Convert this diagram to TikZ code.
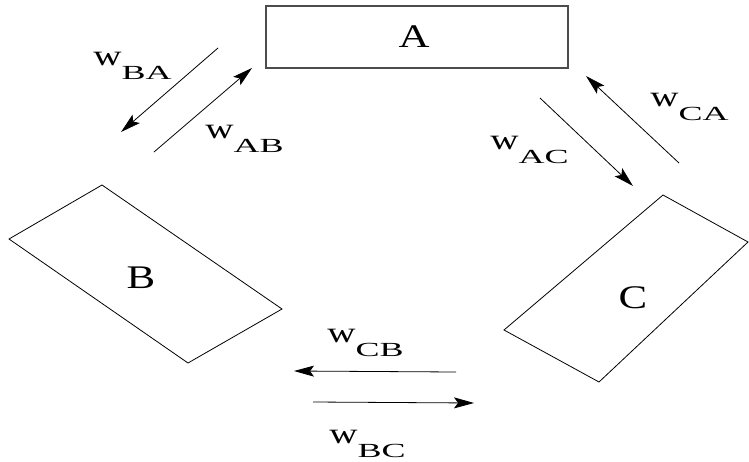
\documentclass[tikz,border=0pt]{standalone}
\usepackage{fontspec}
\usepackage{graphicx}
\setmainfont{Liberation Serif}
\usetikzlibrary{arrows.meta}

% wide w with a lowered, smaller subscript
\newcommand{\wsub}[1]{\scalebox{1.35}[1]{w}\raisebox{-14pt}{\fontsize{20}{20}\selectfont\scalebox{1.8}[1]{#1}}}
% wide capital for the boxes
\newcommand{\boxletter}[1]{\scalebox{1.3}[1]{#1}}

\begin{document}
\begin{tikzpicture}[x=1pt,y=-1pt,line width=0.8pt,
	wlabel/.style={anchor=base west,inner sep=0pt,font=\fontsize{29}{30}\selectfont},
	letter/.style={inner sep=0pt,font=\fontsize{33}{34}\selectfont},
	flow/.style={-{Stealth[length=20pt,width=11pt,inset=4pt]}}]
	\useasboundingbox (0,0) rectangle (749,461);

	%box A
	\node[draw=black!70,line width=1.1pt,minimum width=302pt,minimum height=62pt] (A) at (417,37) {};
	\node[letter] (labA) at (414,37) {\boxletter{A}};

	%box B (slanted)
	\coordinate (B1) at (9,239);
	\coordinate (B2) at (102,185);
	\coordinate (B3) at (282,309);
	\coordinate (B4) at (188,363);
	\draw (B1) -- (B2) -- (B3) -- (B4) -- cycle;
	\node[letter] (labB) at (141,278) {\boxletter{B}};

	%box C (slanted)
	\coordinate (C1) at (663,195);
	\coordinate (C2) at (748,242);
	\coordinate (C3) at (599,382);
	\coordinate (C4) at (504,330);
	\draw (C1) -- (C2) -- (C3) -- (C4) -- cycle;
	\node[letter] (labC) at (633,298) {\boxletter{C}};

	%arrow ends
	\coordinate (ba0) at (218,48);  \coordinate (ba1) at (121,132);
	\coordinate (ab0) at (154,152); \coordinate (ab1) at (252,68);
	\coordinate (ac0) at (540,98);  \coordinate (ac1) at (633,186);
	\coordinate (ca0) at (679,163); \coordinate (ca1) at (586,76);
	\coordinate (cb0) at (456,372); \coordinate (cb1) at (294,371);
	\coordinate (bc0) at (313,402); \coordinate (bc1) at (474,403);

	%flows
	\draw[flow] (ba0) -- (ba1);
	\draw[flow] (ab0) -- (ab1);
	\draw[flow] (ac0) -- (ac1);
	\draw[flow] (ca0) -- (ca1);
	\draw[flow] (cb0) -- (cb1);
	\draw[flow] (bc0) -- (bc1);

	%labels
	\node[wlabel] (wBA) at (93,65) {\wsub{BA}};
	\node[wlabel] (wAB) at (205,138) {\wsub{AB}};
	\node[wlabel] (wAC) at (490,149) {\wsub{AC}};
	\node[wlabel] (wCA) at (650,106) {\wsub{CA}};
	\node[wlabel] (wCB) at (327,342) {\wsub{CB}};
	\node[wlabel] (wBC) at (329,443) {\wsub{BC}};
\end{tikzpicture}
\end{document}
